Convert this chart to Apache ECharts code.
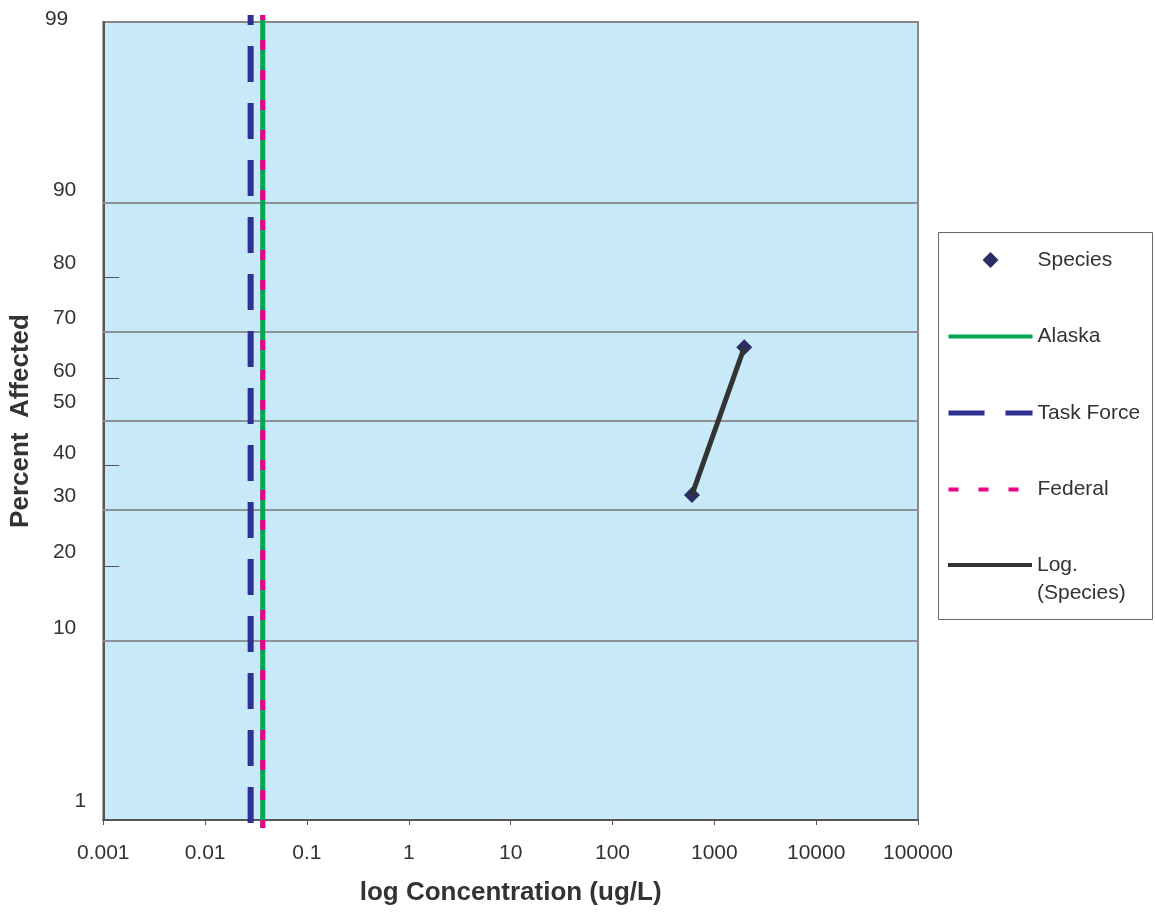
<!DOCTYPE html>
<html><head><meta charset="utf-8">
<script src="https://cdn.jsdelivr.net/npm/echarts@6/dist/echarts.min.js"></script>
<style>html,body{margin:0;padding:0;background:#fff}#c{width:1155px;height:915px}</style>
</head><body><div id="c"></div>
<script>
// ---- data (x: concentration ug/L, y: probit units = 5 + z) ----
const xTickValues = [0.001, 0.01, 0.1, 1, 10, 100, 1000, 10000, 100000];
const xTickLabels = ['0.001', '0.01', '0.1', '1', '10', '100', '1000', '10000', '100000'];
const yLabelProbits = [8.0, 6.75, 6.2, 5.79, 5.39, 5.16, 4.77, 4.45, 4.03, 3.46, 2.16];
const yLabelTexts = ['99', '90', '80', '70', '60', '50', '40', '30', '20', '10', '1'];
const yMinorTickProbits = [6.08, 5.32, 4.67, 3.91];
const yGridProbits = [3.355, 4.326, 5.0, 5.674, 6.645];
const speciesConc = [603, 1968];
const speciesProbit = [4.444, 5.554];
const alaskaConc = 0.0368;
const taskForceConc = 0.028;
const federalConc = 0.0368;
const verticalSpanProbit = [8.053, 1.94];

const txt = '#333333';
const font = '"Liberation Sans", Arial, sans-serif';

function findLabel(values, labels, v, isLog) {
  for (let i = 0; i < values.length; i++) {
    const a = isLog ? Math.log10(values[i]) : values[i];
    const b = isLog ? Math.log10(v) : v;
    if (Math.abs(a - b) < 1e-6) return labels[i];
  }
  return '';
}
function vline(conc) {
  return [[conc, verticalSpanProbit[0]], [conc, verticalSpanProbit[1]]];
}
const speciesData = speciesConc.map((c, i) => [c, speciesProbit[i]]);
const hideSym = {opacity: 0};

const chart = echarts.init(document.getElementById('c'), null, {renderer: 'canvas'});
const option = {
  animation: false,
  textStyle: {fontFamily: font},
  grid: {left: 102, top: 22, right: 237, bottom: 95, show: true,
         backgroundColor: '#c7e9f8', borderColor: '#8c8787', borderWidth: 2},
  xAxis: {
    type: 'log', logBase: 10, min: 0.001, max: 100000,
    name: 'log Concentration (ug/L)', nameLocation: 'middle', nameGap: 60,
    nameTextStyle: {fontSize: 26, fontWeight: 'bold', color: txt, fontFamily: font},
    axisLine: {show: true, onZero: false, lineStyle: {color: '#5a5555', width: 2}},
    axisTick: {show: true, customValues: xTickValues, length: 5, lineStyle: {color: '#5a5555', width: 1}},
    axisLabel: {customValues: xTickValues, fontSize: 21, color: txt, margin: 23, fontFamily: font,
      formatter: v => findLabel(xTickValues, xTickLabels, v, true)},
    splitLine: {show: false}, minorTick: {show: false}
  },
  yAxis: {
    type: 'value', min: 2, max: 8,
    name: 'Percent  Affected', nameLocation: 'middle', nameGap: 64,
    nameTextStyle: {fontSize: 26, fontWeight: 'bold', color: txt, fontFamily: font},
    axisLine: {show: true, onZero: false, lineStyle: {color: '#5a5555', width: 2}},
    axisTick: {show: true, inside: true, length: 16, customValues: yMinorTickProbits,
      lineStyle: {color: '#5a5555', width: 1}},
    axisLabel: {customValues: yLabelProbits, margin: 17, fontSize: 21, color: txt, fontFamily: font,
      formatter: v => {
        const t = findLabel(yLabelProbits, yLabelTexts, v, false);
        if (t === '99') return '{t|' + t + '}';
        if (t === '1') return '{o|' + t + '}';
        return '{n|' + t + '}';
      },
      rich: {
        n: {fontSize: 21, color: txt, padding: [4, 10, 0, 0], fontFamily: font},
        t: {fontSize: 21, color: txt, padding: [4, 18, 10, 0], fontFamily: font},
        o: {fontSize: 21, color: txt, padding: [4, 0, 0, 0], fontFamily: font}
      }},
    splitLine: {show: false}
  },
  graphic: [{type: 'rect', left: 938, top: 232, z: 1,
    shape: {width: 214, height: 387}, style: {fill: '#ffffff', stroke: '#666666', lineWidth: 1}}],
  legend: [{
    orient: 'vertical', left: 946, top: 224, padding: 0, itemWidth: 84, itemHeight: 16, itemGap: 4.5,
    selectedMode: false,
    textStyle: {fontSize: 21, color: txt, lineHeight: 24, padding: [24, 0, 24, 0], fontFamily: font},
    data: [
      {name: 'Species', icon: 'path://M0,-1L1,0L0,1L-1,0Z', itemStyle: {opacity: 1}},
      {name: 'Alaska', lineStyle: {width: 4}, itemStyle: hideSym},
      {name: 'Task Force', lineStyle: {width: 5, dashOffset: 0}, itemStyle: hideSym},
      {name: 'Federal', lineStyle: {width: 4, dashOffset: 0}, itemStyle: hideSym}
    ]
  }, {
    orient: 'vertical', left: 946, top: 523, padding: 0, itemWidth: 84, itemHeight: 16,
    selectedMode: false,
    textStyle: {fontSize: 21, color: txt, lineHeight: 28, fontFamily: font},
    formatter: n => '\n' + n.replace(' (', '\n('),
    data: [{name: 'Log. (Species)', lineStyle: {width: 4}, itemStyle: hideSym}]
  }],
  series: [
    {name: 'Species', type: 'scatter', data: speciesData, symbol: 'diamond', symbolSize: 16,
     itemStyle: {color: '#2d2d66', opacity: 1}, z: 3,
     markLine: {silent: true, symbol: 'none', z: 1, label: {show: false}, animation: false,
       lineStyle: {color: '#8c9296', width: 2, type: 'solid'},
       emphasis: {disabled: true},
       data: yGridProbits.map(v => ({yAxis: v}))}},
    {name: 'Alaska', type: 'line', data: vline(alaskaConc), clip: false, symbol: 'none',
     lineStyle: {color: '#00a651', width: 5}, itemStyle: {color: '#00a651'}, z: 2},
    {name: 'Task Force', type: 'line', data: vline(taskForceConc), clip: false, symbol: 'none',
     lineStyle: {color: '#2e3192', width: 6, type: [36, 21], dashOffset: 26}, itemStyle: {color: '#2e3192'}, z: 2},
    {name: 'Federal', type: 'line', data: vline(federalConc), clip: false, symbol: 'none',
     lineStyle: {color: '#ec008c', width: 5, type: [10, 20], dashOffset: 5}, itemStyle: {color: '#ec008c'}, z: 2},
    {name: 'Log. (Species)', type: 'line', data: speciesData, symbol: 'none',
     lineStyle: {color: '#333333', width: 5}, itemStyle: {color: '#333333'}, z: 4}
  ]
};
chart.setOption(option);
</script>
</body></html>
